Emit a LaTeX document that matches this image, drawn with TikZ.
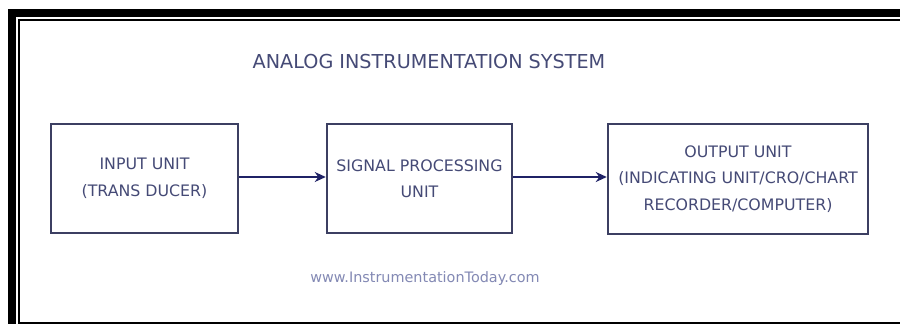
\documentclass[tikz,border=0pt]{standalone}
\usepackage{fontspec}
\setmainfont{DejaVu Sans}
\usetikzlibrary{arrows.meta}
\definecolor{txtc}{HTML}{454A76}
\definecolor{boxc}{HTML}{3C3F62}
\definecolor{arrc}{HTML}{1F2266}
\definecolor{webc}{HTML}{8389B4}
\tikzset{
  unitbox/.style={draw=boxc, line width=2.5pt, fill=white, minimum height=109pt, align=center, text=txtc, inner sep=0pt,
    font=\fontsize{15.8}{26.5}\selectfont},
  flow/.style={draw=arrc, line width=2.2pt, -{Stealth[length=11pt,width=10pt]}},
}
\begin{document}
\begin{tikzpicture}[x=1pt,y=-1pt]
\useasboundingbox[fill=white] (0,0) rectangle (900,324);
% frame
\fill[black] (8,9) rectangle (900,17);
\fill[black] (8,9) rectangle (16,324);
\fill[black] (18,19) rectangle (900,21);
\fill[black] (18,19) rectangle (20,324);
\fill[black] (18,322) rectangle (900,324);
% title
\node[text=txtc, font=\fontsize{19.2}{22}\selectfont] (title) at (429,62) {ANALOG INSTRUMENTATION SYSTEM};
% boxes
\node[unitbox, minimum width=187pt] (in) at (144.5,178.5) {INPUT UNIT\\(TRANS DUCER)};
\node[unitbox, minimum width=185pt] (sp) at (419.5,178.5) {SIGNAL PROCESSING\\UNIT};
\node[unitbox, minimum width=260pt, minimum height=110pt] (out) at (738,179) {OUTPUT UNIT\\(INDICATING UNIT/CRO/CHART\\RECORDER/COMPUTER)};
% arrows
\coordinate (a1s) at (in.east |- 0,177);
\coordinate (a1e) at (sp.west |- 0,177);
\coordinate (a2s) at (sp.east |- 0,177);
\coordinate (a2e) at (out.west |- 0,177);
\draw[flow] (a1s) -- (a1e);
\draw[flow] (a2s) -- (a2e);
% website
\node[text=webc, font=\fontsize{14.4}{16}\selectfont] (web) at (425,279) {www.InstrumentationToday.com};
\end{tikzpicture}
\end{document}
